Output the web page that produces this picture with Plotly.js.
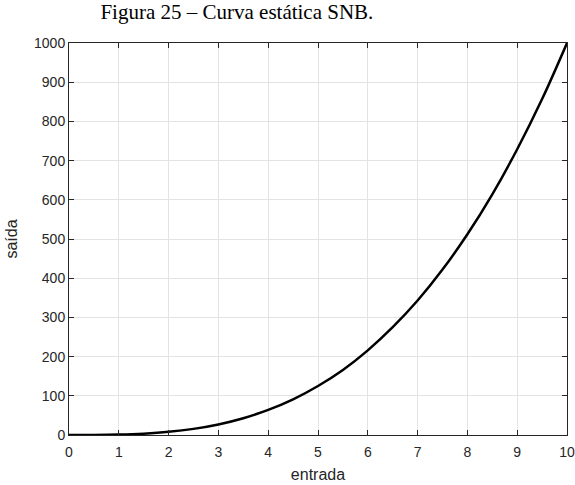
<!DOCTYPE html>
<html><head><meta charset="utf-8">
<script src="https://cdn.plot.ly/plotly-3.0.1.min.js"></script>
<style>html,body{margin:0;padding:0;background:#fff}#c{width:575px;height:485px}</style>
</head><body><div id="c"></div>
<script>
var entrada = [0,0.5,1,1.5,2,2.5,3,3.5,4,4.5,5,5.5,6,6.5,7,7.5,8,8.5,9,9.5,10];
var saida = [0,0.13,1,3.4,8,15.6,27,42.9,64,91,125,166,216,275,343,422,512,614,729,857,1000];
var xTicks = [0,1,2,3,4,5,6,7,8,9,10];
var yTicks = [0,100,200,300,400,500,600,700,800,900,1000];

var trace = {x: entrada, y: saida, mode: 'lines', line: {color: '#000', width: 2.5, shape: 'spline'}, hoverinfo: 'none'};
var axCommon = {showline: true, linecolor: '#262626', linewidth: 1, mirror: 'ticks', ticks: 'inside', ticklen: 5, tickcolor: '#262626',
  showgrid: true, gridcolor: '#e3e3e3', gridwidth: 1, zeroline: false,
  tickfont: {family: 'Liberation Sans, Arial, sans-serif', size: 14, color: '#262626'}};
var layout = {
  width: 575, height: 485,
  margin: {l: 69, r: 8, t: 43, b: 50},
  paper_bgcolor: '#fff', plot_bgcolor: '#fff',
  showlegend: false,
  title: {text: 'Figura 25 – Curva estática SNB.', x: 0.412, xanchor: 'center', y: 0.976, yanchor: 'middle',
    font: {family: 'Liberation Serif, serif', size: 21, color: '#000'}},
  xaxis: Object.assign({}, axCommon, {range: [0, 10], tickvals: xTicks, ticktext: xTicks.map(String), ticklabelstandoff: 4,
    title: {text: 'entrada', standoff: 10, font: {family: 'Liberation Sans, Arial, sans-serif', size: 16, color: '#262626'}}}),
  yaxis: Object.assign({}, axCommon, {range: [0, 1000], tickvals: yTicks, ticktext: yTicks.map(String),
    title: {text: 'saída', standoff: 12, font: {family: 'Liberation Sans, Arial, sans-serif', size: 16, color: '#262626'}}})
};
Plotly.newPlot('c', [trace], layout, {staticPlot: true, displayModeBar: false});
</script></body></html>
